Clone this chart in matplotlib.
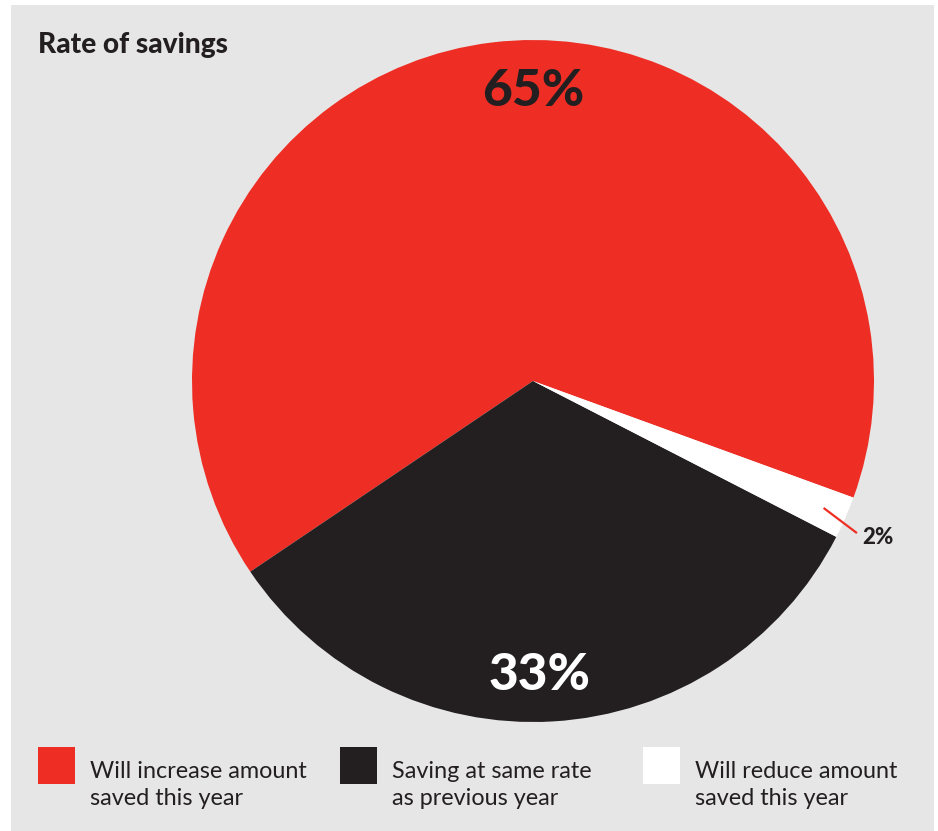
import matplotlib.pyplot as plt
from matplotlib.patches import Rectangle
import numpy as np

plt.rcParams['font.family'] = ['Lato', 'DejaVu Sans']

labels = ["Will increase amount\nsaved this year",
          "Saving at same rate\nas previous year",
          "Will reduce amount\nsaved this year"]
shares = [65, 33, 2]
colors = ["#ee2e24", "#231f20", "#ffffff"]

W, H = 938, 831
fig = plt.figure(figsize=(W / 100, H / 100), dpi=100)
fig.patch.set_facecolor("white")

# grey panel behind everything
fig.patches.append(Rectangle((11 / W, 0), (934 - 11) / W, (831 - 5) / H,
                             transform=fig.transFigure, facecolor="#e6e6e6",
                             edgecolor="none", zorder=-5))

fig.text(38 / W, 1 - 45 / H, "Rate of savings", fontsize=20.2, fontweight="black",
         color="#231f20", va="center", ha="left")

# pie axes: centre (533, 381), radius 341 px
cx, cy, r = 533, 381, 341
ax = fig.add_axes([(cx - r) / W, 1 - (cy + r) / H, 2 * r / W, 2 * r / H])
ax.set_zorder(2)

wedges, _ = ax.pie(shares, colors=colors, startangle=-20, radius=1,
                   wedgeprops=dict(linewidth=0))
ax.set_xlim(-1, 1)
ax.set_ylim(-1, 1)
ax.set_aspect("equal")
ax.axis("off")

ax.text(0, 0.85, f"{shares[0]}%", fontsize=37, fontweight="black",
        color="#231f20", ha="center", va="center")
ax.text(0.02, -0.865, f"{shares[1]}%", fontsize=37, fontweight="black",
        color="white", ha="center", va="center")

# leader line for the small slice
w = wedges[2]
mid = np.deg2rad((w.theta1 + w.theta2) / 2)
x0, y0 = 0.93 * np.cos(mid), 0.93 * np.sin(mid)
ax.plot([x0, 0.95], [y0, -0.446], color="#ee2e24", lw=1.6,
        solid_capstyle="butt", clip_on=False)
ax.text(0.965, -0.46, f"{shares[2]}%", fontsize=16, fontweight="black",
        color="#231f20", ha="left", va="center", clip_on=False)

# legend
for i, (lab, col) in enumerate(zip(labels, colors)):
    x = [38, 340, 643][i]
    fig.patches.append(Rectangle((x / W, 1 - 784 / H), 37 / W, 37 / H,
                                 transform=fig.transFigure, facecolor=col,
                                 edgecolor="none", zorder=3))
    fig.text((x + 52) / W, 1 - 785 / H, lab, fontsize=16.8, color="#231f20",
             ha="left", va="center", linespacing=1.4)

fig.savefig("out.png", dpi=100)
